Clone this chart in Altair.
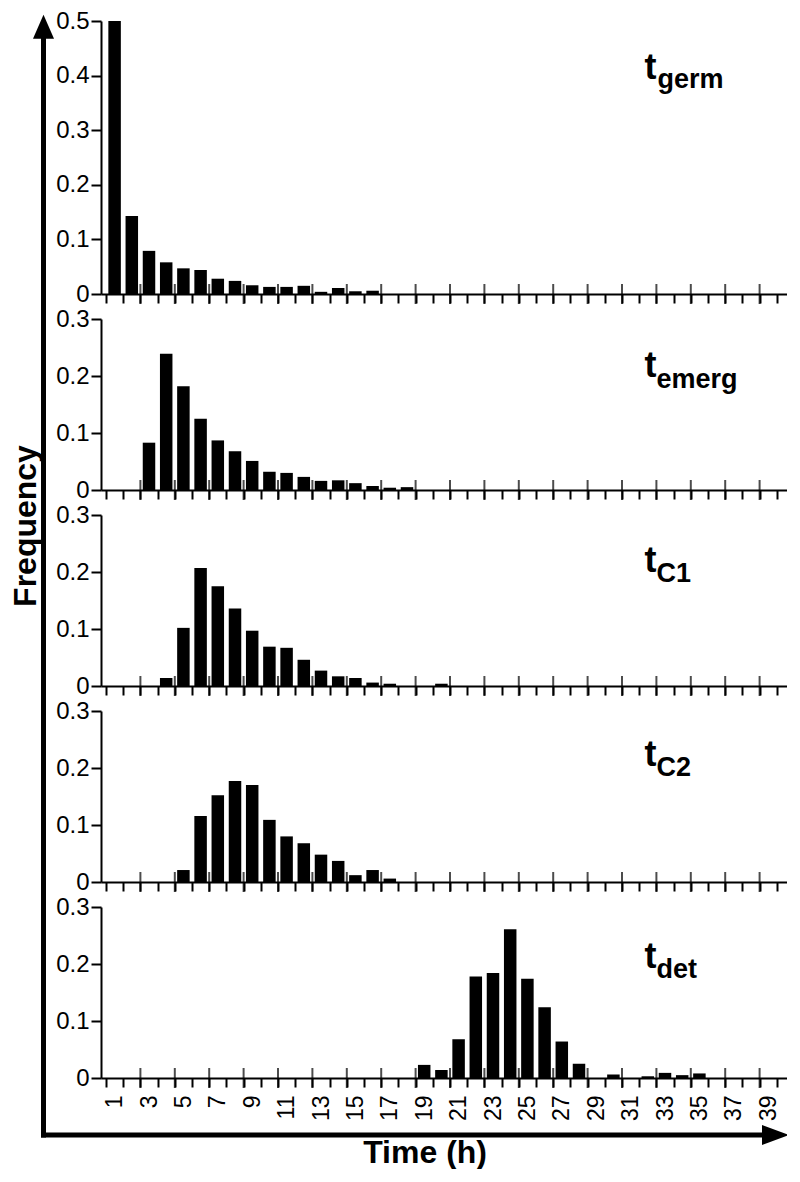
import altair as alt
import pandas as pd

# ---------------- data ----------------
hours_germ = list(range(1, 17))
freq_germ = [0.500, 0.143, 0.079, 0.058, 0.047, 0.044, 0.028, 0.024,
             0.016, 0.013, 0.013, 0.015, 0.004, 0.011, 0.005, 0.006]

hours_emerg = list(range(3, 19))
freq_emerg = [0.083, 0.239, 0.182, 0.125, 0.087, 0.068, 0.051, 0.032,
              0.030, 0.023, 0.016, 0.017, 0.012, 0.007, 0.004, 0.005]

hours_c1 = list(range(4, 18)) + [20]
freq_c1 = [0.014, 0.102, 0.207, 0.175, 0.136, 0.097, 0.069, 0.067,
           0.046, 0.027, 0.017, 0.014, 0.006, 0.004, 0.004]

hours_c2 = list(range(5, 18))
freq_c2 = [0.021, 0.116, 0.152, 0.177, 0.170, 0.109, 0.080, 0.068,
           0.048, 0.037, 0.012, 0.021, 0.006]

hours_det = list(range(19, 29)) + [30, 32, 33, 34, 35]
freq_det = [0.023, 0.014, 0.068, 0.178, 0.184, 0.261, 0.174, 0.124,
            0.064, 0.025, 0.006, 0.003, 0.009, 0.005, 0.008]

panel_subs = ["germ", "emerg", "C1", "C2", "det"]
y_max = [0.5, 0.3, 0.3, 0.3, 0.3]
y_ticks_big = [0, 0.1, 0.2, 0.3, 0.4, 0.5]
y_ticks_small = [0, 0.1, 0.2, 0.3]
boundaries = list(range(0, 40))          # bin edges (hours) with axis ticks
tall_ticks = list(range(2, 41, 2))       # edges with upward tick marks
x_title = "Time (h)"
y_title = "Frequency"

# ---------------- layout / style ----------------
W = 698
H1 = 273
H = 171
S = 25
FONT = "Liberation Sans"
BAR_W = 12.5
sx = W / 700.0
D = H1 + 3 * H + 4 * S   # distance from top of panel 1 to top of panel 5

label_pos = [  # (t baseline, subscript baseline, subscript x) relative to panel top
    (58, 67, 558),
    (58, 69, 557),
    (57, 67, 557),
    (55, 65, 557),
    (61, 71, 557),
]


def one(**kw):
    return pd.DataFrame({k: [v] for k, v in kw.items()})


def panel(hours, freq, ymax, yticks, height, sub, pos, last):
    df = pd.DataFrame({"hour": hours, "freq": freq})
    xscale = alt.Scale(domain=[0, 40], nice=False, zero=False)
    yscale = alt.Scale(domain=[0, ymax], nice=False, zero=True)
    xaxis_kw = dict(orient="bottom", values=boundaries, domain=True, ticks=True,
                    tickSize=9, tickWidth=2, domainWidth=2,
                    domainColor="black", tickColor="black", labelColor="black",
                    grid=False, labels=last, title=None)
    if last:
        xaxis_kw.update(
            labelExpr="datum.value % 2 == 0 ? '' + (datum.value + 1) : ''",
            labelAngle=270, labelOffset=8.75 * sx, labelFontSize=23,
            labelFont=FONT, labelPadding=8, labelOverlap=False, labelFlush=False)
    xaxis = alt.Axis(**xaxis_kw)
    yaxis = alt.Axis(orient="left", values=yticks, format=".1~f", domain=True,
                     ticks=True, tickSize=10, tickWidth=2, domainWidth=2,
                     domainColor="black", tickColor="black", labelColor="black",
                     grid=False, labelFontSize=24, labelFont=FONT,
                     labelPadding=2, title=None)

    bars = alt.Chart(df).transform_calculate(mid="datum.hour - 0.5").mark_bar(
        width=BAR_W, color="black").encode(
        x=alt.X("mid:Q", scale=xscale, axis=xaxis, title=None),
        y=alt.Y("freq:Q", scale=yscale, axis=yaxis, title=None),
    )
    ticks = alt.Chart(pd.DataFrame({"mid": tall_ticks, "freq": [0] * len(tall_ticks)})).mark_tick(
        orient="vertical", color="black", thickness=2, size=20).encode(
        x=alt.X("mid:Q", scale=xscale, axis=xaxis, title=None),
        y=alt.Y("freq:Q", scale=yscale, axis=yaxis, title=None),
    )
    t_base, s_base, s_x = pos
    tmark = alt.Chart(one(txt="t")).mark_text(
        font=FONT, fontSize=36, fontWeight="bold", align="left",
        baseline="alphabetic", color="black").encode(
        text="txt:N", x=alt.value(545 * sx), y=alt.value(t_base))
    smark = alt.Chart(one(txt=sub)).mark_text(
        font=FONT, fontSize=27, fontWeight="bold", align="left",
        baseline="alphabetic", color="black").encode(
        text="txt:N", x=alt.value(s_x * sx), y=alt.value(s_base))
    layers = [bars, ticks, tmark, smark]

    if last:
        below = height + 57
        vline = alt.Chart(one(a=0)).mark_rule(color="black", strokeWidth=5).encode(
            x=alt.value(-57.5), x2=alt.value(-57.5),
            y=alt.value(-D + 15), y2=alt.value(below + 2.5))
        hline = alt.Chart(one(a=0)).mark_rule(color="black", strokeWidth=5).encode(
            x=alt.value(-60), x2=alt.value(664),
            y=alt.value(below), y2=alt.value(below))
        uphead = alt.Chart(one(a=0)).mark_point(
            shape="M0,-1 L0.875,1 L-0.875,1 Z", filled=True, size=576,
            color="black", opacity=1, strokeWidth=0).encode(
            x=alt.value(-57.5), y=alt.value(-D + 5.7))
        righthead = alt.Chart(one(a=0)).mark_point(
            shape="M1,0 L-1,-0.74 L-1,0.74 Z", filled=True, size=729,
            color="black", opacity=1, strokeWidth=0).encode(
            x=alt.value(674.5), y=alt.value(below))
        xt = alt.Chart(one(txt=x_title)).mark_text(
            font=FONT, fontSize=32, fontWeight="bold", align="center",
            baseline="alphabetic", color="black").encode(
            text="txt:N", x=alt.value(325 * sx), y=alt.value(height + 85))
        yt = alt.Chart(one(txt=y_title)).mark_text(
            font=FONT, fontSize=32, fontWeight="bold", align="center",
            baseline="middle", angle=270, color="black").encode(
            text="txt:N", x=alt.value(-75), y=alt.value(-D + 505))
        layers += [vline, hline, uphead, righthead, xt, yt]

    return alt.layer(*layers).properties(width=W, height=height)


series = [
    (hours_germ, freq_germ),
    (hours_emerg, freq_emerg),
    (hours_c1, freq_c1),
    (hours_c2, freq_c2),
    (hours_det, freq_det),
]

panels = []
for i, (hrs, frq) in enumerate(series):
    panels.append(panel(
        hrs, frq, y_max[i],
        y_ticks_big if i == 0 else y_ticks_small,
        H1 if i == 0 else H,
        panel_subs[i], label_pos[i], i == len(series) - 1))

chart = alt.vconcat(*panels, spacing=S, bounds="flush").resolve_scale(
    x="independent", y="independent"
).properties(
    background="white",
    padding={"top": 1, "left": 2, "right": -12, "bottom": 0},
).configure_view(strokeWidth=0)

chart.save("out.html", embed_options={"renderer": "svg", "actions": False})
